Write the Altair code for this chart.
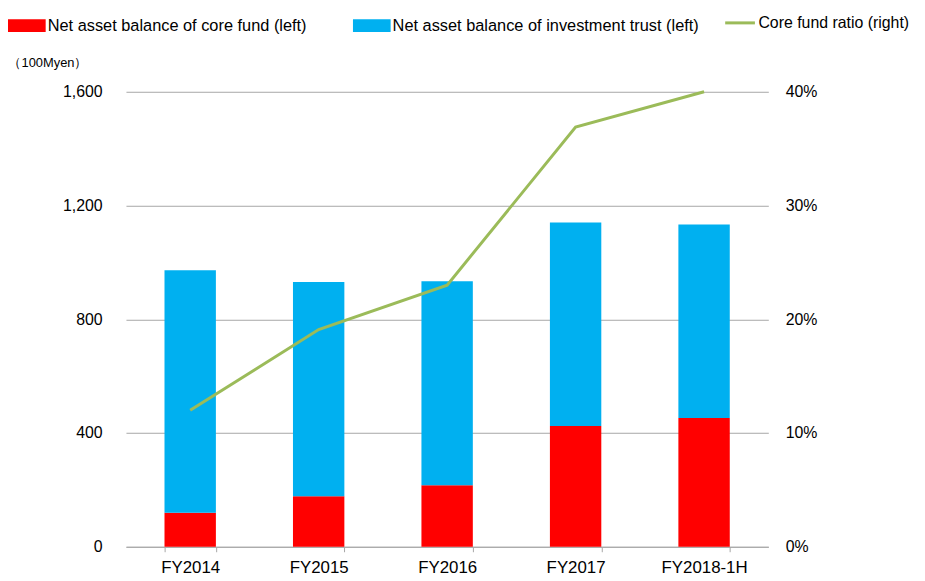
import altair as alt
import pandas as pd

categories = ["FY2014", "FY2015", "FY2016", "FY2017", "FY2018-1H"]
core_fund = [120, 178, 216, 425, 453]
invest_trust = [852, 753, 718, 715, 680]
core_ratio = [0.12, 0.191, 0.23, 0.369, 0.40]

bar_names = ["Net asset balance of core fund (left)", "Net asset balance of investment trust (left)"]
line_name = "Core fund ratio (right)"

FONT = "Liberation Sans Narrow, Arial Narrow, Liberation Sans, Arial, sans-serif"
GRID = "#A6A6A6"

rows = []
for c, a, b in zip(categories, core_fund, invest_trust):
    rows.append({"cat": c, "series": bar_names[0], "value": a, "ord": 0})
    rows.append({"cat": c, "series": bar_names[1], "value": b, "ord": 1})
bars_df = pd.DataFrame(rows)
line_df = pd.DataFrame({"cat": categories, "ratio": core_ratio, "name": [line_name] * len(categories)})

x_enc = alt.X(
    "cat:N",
    sort=categories,
    scale=alt.Scale(paddingInner=0.6, paddingOuter=0.3),
    axis=alt.Axis(
        title=None, labelAngle=0, labelFontSize=17, labelFont=FONT, labelColor="#000000",
        labelPadding=8, tickBand="extent", tickSize=5, tickColor=GRID, domainColor=GRID,
        grid=False,
    ),
)

bars = alt.Chart(bars_df).mark_bar().encode(
    x=x_enc,
    y=alt.Y(
        "value:Q",
        stack="zero",
        scale=alt.Scale(domain=[0, 1600]),
        axis=alt.Axis(
            title="（100Myen）", titleAngle=0, titleX=-119, titleY=-30, titleAlign="left",
            titleBaseline="middle", titleFont=FONT, titleFontSize=13, titleFontWeight="normal",
            titleColor="#000000",
            values=[0, 400, 800, 1200, 1600], format=",d", labelFontSize=16, labelFont=FONT,
            labelColor="#000000", labelPadding=24, ticks=False, tickSize=0, domain=False,
            grid=True, gridColor=GRID, gridWidth=1,
        ),
    ),
    color=alt.Color(
        "series:N",
        scale=alt.Scale(domain=bar_names, range=["#FF0000", "#00B0F0"]),
        legend=alt.Legend(
            title=None, orient="none", legendX=-119, legendY=-86, direction="horizontal",
            columnPadding=46, symbolType="M-1,-0.34H1V0.34H-1Z", symbolSize=1444,
            symbolStrokeWidth=0, labelFontSize=16.5, labelFont=FONT, labelColor="#000000",
            labelOffset=2, labelLimit=0,
        ),
    ),
    order=alt.Order("ord:Q", sort="ascending"),
)

line = alt.Chart(line_df).mark_line(strokeWidth=3).encode(
    x=alt.X("cat:N", sort=categories),
    y=alt.Y(
        "ratio:Q",
        scale=alt.Scale(domain=[0, 0.4]),
        axis=alt.Axis(
            title=None, orient="right", values=[0, 0.1, 0.2, 0.3, 0.4], format=".0%",
            labelFontSize=16, labelFont=FONT, labelColor="#000000", labelPadding=17,
            ticks=False, tickSize=0, domain=False, grid=False,
        ),
    ),
    stroke=alt.Stroke(
        "name:N",
        scale=alt.Scale(domain=[line_name], range=["#9BBB59"]),
        legend=alt.Legend(
            title=None, orient="none", legendX=603, legendY=-86, symbolType="stroke",
            symbolSize=900, symbolStrokeWidth=3, labelFontSize=16, labelFont=FONT,
            labelColor="#000000", labelOffset=2, labelLimit=0,
        ),
    ),
)

chart = alt.layer(bars, line).resolve_scale(y="independent", color="independent").properties(
    width=648, height=459,
    autosize=alt.AutoSizeParams(type="none"),
    padding={"left": 119, "top": 82, "right": 150, "bottom": 32},
).configure(background="white").configure_view(stroke=None)

chart.save("out.html", embed_options={"renderer": "svg", "actions": False})
